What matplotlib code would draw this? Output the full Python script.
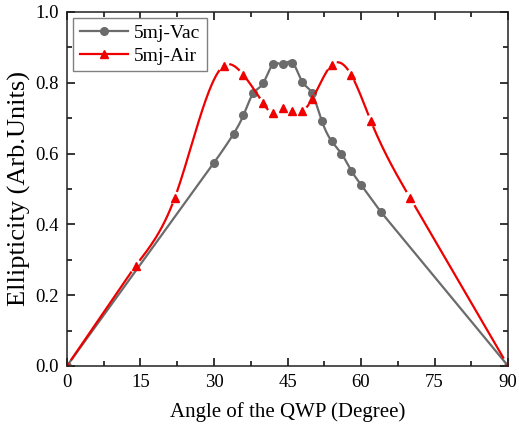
import numpy as np
import matplotlib.pyplot as plt

# datos
ang_vac = [0, 30, 34, 36, 38, 40, 42, 44, 46, 48, 50, 52, 54, 56, 58, 60, 64, 90]
ell_vac = [0, 0.574, 0.656, 0.708, 0.770, 0.798, 0.852, 0.852, 0.857, 0.803,
           0.770, 0.692, 0.635, 0.600, 0.552, 0.512, 0.436, 0]

ang_air = [0, 14, 22, 32, 36, 40, 42, 44, 46, 48, 50, 54, 58, 62, 70, 90]
ell_air = [0, 0.283, 0.475, 0.848, 0.822, 0.743, 0.715, 0.730, 0.720, 0.720,
           0.753, 0.850, 0.822, 0.692, 0.475, 0]

xticks = [0, 15, 30, 45, 60, 75, 90]
yticks = [0.0, 0.2, 0.4, 0.6, 0.8, 1.0]

plt.rcParams['font.family'] = ['Liberation Serif', 'DejaVu Serif']


def spline(x, y, n=60, largo=14):
    # spline cubico solo para la linea suave; los tramos largos van rectos
    x = np.asarray(x, float)
    y = np.asarray(y, float)
    N = len(x)
    h = np.diff(x)
    A = np.zeros((N, N))
    b = np.zeros(N)
    A[0, 0], A[0, 1] = 2 * h[0], h[0]
    A[-1, -2], A[-1, -1] = h[-1], 2 * h[-1]
    for i in range(1, N - 1):
        A[i, i - 1] = h[i - 1]
        A[i, i] = 2 * (h[i - 1] + h[i])
        A[i, i + 1] = h[i]
        b[i] = 6 * ((y[i + 1] - y[i]) / h[i] - (y[i] - y[i - 1]) / h[i - 1])
    M = np.linalg.solve(A, b)
    xs, ys = [], []
    for i in range(N - 1):
        t = np.linspace(x[i], x[i + 1], n, endpoint=False)
        if h[i] >= largo:
            s = y[i] + (y[i + 1] - y[i]) * (t - x[i]) / h[i]
        else:
            s = (M[i] * (x[i + 1] - t) ** 3 / (6 * h[i]) + M[i + 1] * (t - x[i]) ** 3 / (6 * h[i])
                 + (y[i] / h[i] - M[i] * h[i] / 6) * (x[i + 1] - t)
                 + (y[i + 1] / h[i] - M[i + 1] * h[i] / 6) * (t - x[i]))
        xs.append(t)
        ys.append(s)
    xs.append([x[-1]])
    ys.append([y[-1]])
    return np.concatenate(xs), np.concatenate(ys)


fig = plt.figure(figsize=(5.19, 4.36), dpi=100)
ax = fig.add_axes([0.129, 0.1606, 0.850, 0.812])
ax.set_xlim(0, 90)
ax.set_ylim(0, 1.0)

gris = '#6b6b6b'
rojo = '#ee0000'

xv, yv = spline(ang_vac, ell_vac)
ax.plot(xv, yv, color=gris, lw=1.6)
ax.plot(ang_vac, ell_vac, 'o', color=gris, ms=5.5)

# la linea roja tiene huecos alrededor de cada marcador
xa, ya = spline(ang_air, ell_air)
pts = ax.transData.transform(np.column_stack([xa, ya]))
mk = ax.transData.transform(np.column_stack([ang_air, ell_air]))
d = np.sqrt(((pts[:, None, :] - mk[None, :, :]) ** 2).sum(axis=2)).min(axis=1)
ya_gap = np.where(d < 6.5, np.nan, ya)
ax.plot(xa, ya_gap, color=rojo, lw=1.6)
ax.plot(ang_air, ell_air, '^', color=rojo, ms=6)

# entradas de la leyenda
h1, = ax.plot([], [], '-o', color=gris, lw=1.6, ms=5.5, label='5mj-Vac')
h2, = ax.plot([], [], '-^', color=rojo, lw=1.6, ms=6, label='5mj-Air')
leg = ax.legend(handles=[h1, h2], loc='upper left', fontsize=14, fancybox=False,
                edgecolor='#808080', framealpha=1, handlelength=2.5, handletextpad=0.3,
                borderaxespad=0.3, borderpad=0.35, labelspacing=0.25)
leg.get_frame().set_linewidth(1.0)

ax.set_xticks(xticks)
ax.set_yticks(yticks)
ax.set_xticks(np.arange(7.5, 90, 15), minor=True)
ax.set_yticks(np.arange(0.1, 1.0, 0.2), minor=True)
ax.tick_params(which='both', direction='in', top=True, right=True, width=1.1, labelsize=13.5, pad=6)
ax.tick_params(which='major', length=6)
ax.tick_params(which='minor', length=3.5)
ax.yaxis.set_major_formatter(plt.FormatStrFormatter('%.1f'))
for s in ax.spines.values():
    s.set_linewidth(1.1)
    s.set_color('#222222')

ax.set_xlabel('Angle of the QWP (Degree)', fontsize=15, labelpad=8)
ax.set_ylabel('Ellipticity (Arb.Units)', fontsize=19, labelpad=3)

plt.savefig('out.png', dpi=100)
